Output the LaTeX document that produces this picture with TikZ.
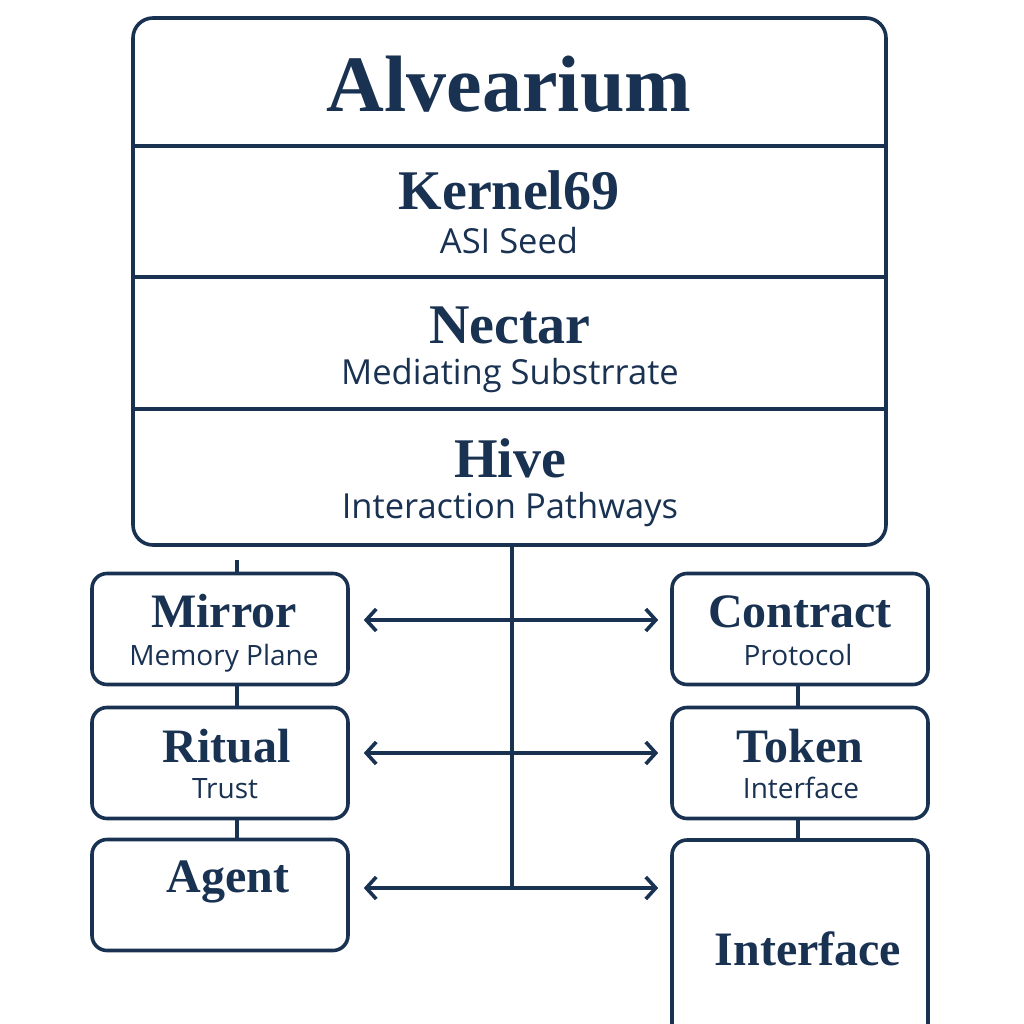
\documentclass[tikz,border=0pt]{standalone}
\usepackage{fontspec}
\setmainfont{Liberation Serif}
\newfontfamily\subfont{Open Sans}
\usetikzlibrary{arrows.meta,positioning}
\definecolor{navy}{RGB}{26,50,82}

\begin{document}
\begin{tikzpicture}[x=1pt,y=-1pt,
    line width=3.6pt,draw=navy,text=navy,
    box/.style={draw=navy,rounded corners=15pt,minimum width=256pt,minimum height=111pt,inner sep=0pt},
    head/.style={font=\fontsize{48}{48}\selectfont\bfseries,anchor=base},
    sub/.style={font=\subfont\fontsize{28}{28}\selectfont,anchor=base},
    bighead/.style={font=\fontsize{56}{56}\selectfont\bfseries,anchor=base},
    bigsub/.style={font=\subfont\fontsize{34.5}{34.5}\selectfont,anchor=base},
    link/.style={navy,line width=3.6pt},
    biarrow/.style={navy,line width=3.6pt,{Straight Barb[length=10pt,width=22pt]}-{Straight Barb[length=10pt,width=22pt]}}]
  \useasboundingbox (0,0) rectangle (1024,1024);
  % 上部の大きな枠（四層）
  \node[draw=navy,rounded corners=20pt,minimum width=753pt,minimum height=527pt,inner sep=0pt]
    (alv) at (509.5,281.5) {};
  \draw (alv.west |- 0,146) -- (alv.east |- 0,146);
  \draw (alv.west |- 0,277) -- (alv.east |- 0,277);
  \draw (alv.west |- 0,409) -- (alv.east |- 0,409);
  \node[font=\fontsize{80}{80}\selectfont\bfseries,anchor=base] (title) at (509,112) {Alvearium};
  \node[bighead] (kernel) at (509,210) {Kernel69};
  \node[bigsub] (kernelsub) at (509,253) {ASI Seed};
  \node[bighead] (nectar) at (510,343) {Nectar};
  \node[bigsub] (nectarsub) at (510,384) {Mediating Substrrate};
  \node[bighead] (hive) at (510,477) {Hive};
  \node[bigsub] (hivesub) at (510,518) {Interaction Pathways};
  % 左側の箱
  \node[box] (mirror) at (220,629) {};
  \node[box] (ritual) at (220,763) {};
  \node[box] (agent) at (220,895) {};
  \node[head] at (224,627) {Mirror};
  \node[sub] at (224,665) {Memory Plane};
  \node[head] at (227,762) {Ritual};
  \node[sub] at (225,798) {Trust};
  \node[head] at (228,892) {Agent};
  % 右側の箱
  \node[box] (contract) at (800,629) {};
  \node[box] (token) at (800,763) {};
  \node[box,minimum height=260pt] (iface) at (800,970) {};
  \node[head] at (800,627) {Contract};
  \node[sub] at (798,665) {Protocol};
  \node[head] at (800,762) {Token};
  \node[sub] at (801,798) {Interface};
  \node[head] at (808,965) {Interface};
  % 箱どうしの短い線
  \coordinate (stub) at (237,560);
  \draw[link] (stub) -- (stub |- mirror.north);
  \draw[link] (stub |- mirror.south) -- (stub |- ritual.north);
  \draw[link] (stub |- ritual.south) -- (stub |- agent.north);
  \draw[link] ([xshift=-2pt]contract.south) -- ([xshift=-2pt]token.north);
  \draw[link] ([xshift=-2pt]token.south) -- ([xshift=-2pt]iface.north);
  % 中央の縦線と双方向の矢印
  \coordinate (trunk) at (512,888);
  \draw[link] (alv.south -| trunk) -- (trunk);
  \draw[biarrow] ([xshift=14pt,yshift=9pt]mirror.east) -- ([xshift=-12pt,yshift=9pt]contract.west);
  \draw[biarrow] ([xshift=14pt,yshift=10pt]ritual.east) -- ([xshift=-12pt,yshift=10pt]token.west);
  \draw[biarrow] ([xshift=14pt]agent.east |- trunk) -- ([xshift=-12pt]iface.west |- trunk);
\end{tikzpicture}
\end{document}
